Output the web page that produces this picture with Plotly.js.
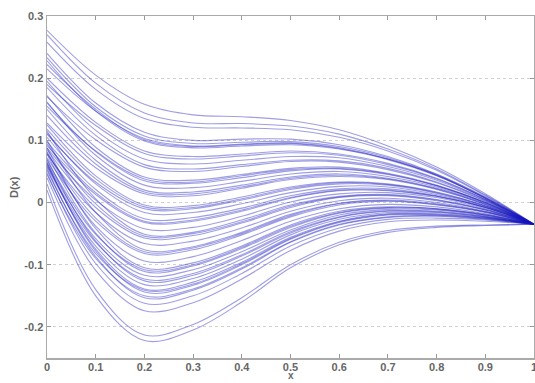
<!DOCTYPE html>
<html>
<head>
<meta charset="utf-8">
<script src="https://cdn.plot.ly/plotly-3.0.1.min.js"></script>
<style>html,body{margin:0;padding:0;background:#fff;}#chart{width:535px;height:383px;}</style>
</head>
<body>
<div id="chart"></div>
<script>
const xGrid = [0, 0.1, 0.2, 0.3, 0.4, 0.5, 0.6, 0.7, 0.8, 0.9, 1.0];

const c01 = [0.277, 0.205, 0.158, 0.141, 0.138, 0.132, 0.117, 0.091, 0.057, 0.014, -0.035];
const c02 = [0.270, 0.192, 0.144, 0.128, 0.127, 0.123, 0.110, 0.086, 0.054, 0.012, -0.035];
const c03 = [0.258, 0.182, 0.135, 0.121, 0.120, 0.117, 0.105, 0.083, 0.052, 0.011, -0.035];
const c04 = [0.240, 0.160, 0.113, 0.100, 0.102, 0.102, 0.093, 0.074, 0.046, 0.009, -0.035];
const c05 = [0.233, 0.154, 0.107, 0.095, 0.097, 0.098, 0.090, 0.072, 0.045, 0.008, -0.035];
const c06 = [0.215, 0.147, 0.103, 0.091, 0.094, 0.096, 0.088, 0.070, 0.044, 0.007, -0.035];
const c07 = [0.228, 0.147, 0.099, 0.088, 0.091, 0.093, 0.086, 0.069, 0.043, 0.007, -0.035];
const c08 = [0.200, 0.129, 0.083, 0.074, 0.078, 0.083, 0.078, 0.063, 0.039, 0.005, -0.035];
const c09 = [0.190, 0.124, 0.079, 0.070, 0.075, 0.080, 0.076, 0.061, 0.038, 0.005, -0.035];
const c10 = [0.185, 0.108, 0.061, 0.054, 0.061, 0.068, 0.067, 0.055, 0.033, 0.003, -0.035];
const c11 = [0.170, 0.101, 0.057, 0.050, 0.058, 0.066, 0.065, 0.053, 0.032, 0.002, -0.035];
const c12 = [0.172, 0.089, 0.041, 0.036, 0.045, 0.055, 0.057, 0.047, 0.028, 0.000, -0.035];
const c13 = [0.155, 0.083, 0.038, 0.033, 0.043, 0.053, 0.055, 0.046, 0.027, 0.000, -0.035];
const c14 = [0.160, 0.082, 0.035, 0.031, 0.040, 0.051, 0.054, 0.045, 0.027, 0.000, -0.035];
const c15 = [0.150, 0.068, 0.020, 0.017, 0.028, 0.041, 0.046, 0.039, 0.023, -0.002, -0.035];
const c16 = [0.140, 0.062, 0.017, 0.014, 0.025, 0.039, 0.044, 0.038, 0.022, -0.003, -0.035];
const c17 = [0.128, 0.056, 0.014, 0.011, 0.023, 0.037, 0.042, 0.037, 0.021, -0.003, -0.035];
const c18 = [0.125, 0.043, -0.004, -0.005, 0.009, 0.025, 0.033, 0.030, 0.017, -0.005, -0.035];
const c19 = [0.118, 0.038, -0.007, -0.008, 0.006, 0.023, 0.032, 0.029, 0.016, -0.005, -0.035];
const c20 = [0.110, 0.033, -0.010, -0.010, 0.004, 0.021, 0.030, 0.028, 0.015, -0.006, -0.035];
const c21 = [0.105, 0.021, -0.026, -0.024, -0.009, 0.011, 0.022, 0.022, 0.011, -0.008, -0.035];
const c22 = [0.098, 0.016, -0.030, -0.028, -0.012, 0.008, 0.020, 0.020, 0.010, -0.008, -0.035];
const c23 = [0.092, 0.013, -0.032, -0.030, -0.014, 0.007, 0.019, 0.019, 0.010, -0.008, -0.035];
const c24 = [0.115, 0.006, -0.051, -0.048, -0.028, -0.004, 0.010, 0.013, 0.005, -0.011, -0.035];
const c25 = [0.095, -0.002, -0.054, -0.050, -0.031, -0.006, 0.009, 0.012, 0.004, -0.012, -0.035];
const c26 = [0.085, -0.008, -0.057, -0.053, -0.033, -0.008, 0.008, 0.011, 0.003, -0.012, -0.035];
const c27 = [0.100, -0.016, -0.076, -0.071, -0.048, -0.019, -0.001, 0.004, -0.002, -0.015, -0.035];
const c28 = [0.080, -0.025, -0.079, -0.073, -0.050, -0.021, -0.002, 0.003, -0.003, -0.015, -0.035];
const c29 = [0.072, -0.030, -0.082, -0.076, -0.052, -0.023, -0.004, 0.002, -0.004, -0.016, -0.035];
const c30 = [0.088, -0.042, -0.105, -0.097, -0.070, -0.036, -0.014, -0.007, -0.010, -0.019, -0.035];
const c31 = [0.068, -0.051, -0.108, -0.100, -0.072, -0.038, -0.016, -0.008, -0.010, -0.020, -0.035];
const c32 = [0.078, -0.049, -0.111, -0.102, -0.074, -0.040, -0.017, -0.009, -0.011, -0.020, -0.035];
const c33 = [0.060, -0.064, -0.123, -0.114, -0.084, -0.047, -0.023, -0.013, -0.014, -0.022, -0.035];
const c34 = [0.070, -0.062, -0.126, -0.117, -0.086, -0.049, -0.024, -0.014, -0.015, -0.023, -0.035];
const c35 = [0.062, -0.075, -0.139, -0.128, -0.096, -0.056, -0.030, -0.018, -0.018, -0.024, -0.035];
const c36 = [0.052, -0.082, -0.141, -0.131, -0.098, -0.058, -0.031, -0.019, -0.019, -0.025, -0.035];
const c37 = [0.065, -0.078, -0.144, -0.133, -0.100, -0.059, -0.032, -0.020, -0.020, -0.025, -0.035];
const c38 = [0.045, -0.090, -0.150, -0.139, -0.105, -0.063, -0.035, -0.023, -0.021, -0.026, -0.035];
const c39 = [0.055, -0.087, -0.153, -0.141, -0.107, -0.064, -0.036, -0.024, -0.022, -0.027, -0.035];
const c40 = [0.040, -0.109, -0.174, -0.161, -0.123, -0.077, -0.046, -0.031, -0.028, -0.030, -0.035];
const c41 = [0.030, -0.140, -0.213, -0.196, -0.153, -0.100, -0.064, -0.045, -0.038, -0.036, -0.035];
const c42 = [0.020, -0.150, -0.222, -0.205, -0.160, -0.105, -0.068, -0.048, -0.040, -0.037, -0.035];
const c43 = [0.162, 0.076, 0.028, 0.024, 0.034, 0.046, 0.050, 0.042, 0.025, -0.001, -0.035];
const c44 = [0.112, 0.030, -0.016, -0.016, -0.002, 0.016, 0.026, 0.025, 0.013, -0.007, -0.035];
const c45 = [0.088, 0.004, -0.042, -0.040, -0.022, 0.001, 0.014, 0.016, 0.008, -0.010, -0.035];
const c46 = [0.078, -0.016, -0.066, -0.062, -0.041, -0.014, 0.003, 0.007, 0.000, -0.014, -0.035];
const c47 = [0.082, -0.038, -0.094, -0.087, -0.061, -0.030, -0.010, -0.003, -0.007, -0.018, -0.035];
const c48 = [0.064, -0.058, -0.117, -0.108, -0.079, -0.044, -0.020, -0.011, -0.012, -0.021, -0.035];
const c49 = [0.058, -0.070, -0.132, -0.122, -0.091, -0.052, -0.027, -0.016, -0.016, -0.023, -0.035];
const c50 = [0.048, -0.098, -0.162, -0.150, -0.114, -0.070, -0.041, -0.027, -0.025, -0.028, -0.035];
const c51 = [0.195, 0.116, 0.070, 0.062, 0.068, 0.074, 0.072, 0.058, 0.036, 0.004, -0.035];
const c52 = [0.222, 0.150, 0.101, 0.090, 0.093, 0.095, 0.087, 0.070, 0.044, 0.007, -0.035];

const curves = [c01,c02,c03,c04,c05,c06,c07,c08,c09,c10,c11,c12,c13,c14,c15,c16,c17,c18,c19,c20,c21,
                c22,c23,c24,c25,c26,c27,c28,c29,c30,c31,c32,c33,c34,c35,c36,c37,c38,c39,c40,c41,c42,
                c43,c44,c45,c46,c47,c48,c49,c50,c51,c52];

const xTickVals = [0, 0.1, 0.2, 0.3, 0.4, 0.5, 0.6, 0.7, 0.8, 0.9, 1];
const xTickText = ['0', '0.1', '0.2', '0.3', '0.4', '0.5', '0.6', '0.7', '0.8', '0.9', '1'];
const yTickVals = [-0.2, -0.1, 0, 0.1, 0.2, 0.3];
const yTickText = ['-0.2', '-0.1', '0', '0.1', '0.2', '0.3'];

const traces = curves.map(function (c) {
  return {
    x: xGrid, y: c, type: 'scatter', mode: 'lines',
    line: {color: 'rgba(25,25,190,0.42)', width: 1.1, shape: 'spline', smoothing: 1},
    hoverinfo: 'skip', showlegend: false
  };
});

const tickFont = {family: 'Liberation Sans, Arial, sans-serif', size: 11, color: '#666', weight: 'bold'};

const layout = {
  width: 535, height: 383,
  margin: {l: 47, r: 1, t: 16, b: 25, pad: 0},
  paper_bgcolor: '#fff', plot_bgcolor: '#fff',
  showlegend: false,
  xaxis: {
    range: [0, 1], tickvals: xTickVals, ticktext: xTickText,
    ticks: 'inside', ticklen: 4, tickcolor: '#999',
    showline: true, linecolor: '#aaa', linewidth: 1.5, mirror: 'ticks',
    showgrid: false, zeroline: false, tickfont: tickFont, automargin: false,
    ticklabeloverflow: 'allow', ticklabelstandoff: -2
  },
  yaxis: {
    range: [-0.25, 0.3], tickvals: yTickVals, ticktext: yTickText,
    ticks: 'inside', ticklen: 4, tickcolor: '#999',
    showline: true, linecolor: '#aaa', linewidth: 1.5, mirror: 'ticks',
    showgrid: true, gridcolor: '#d0d0d0', griddash: 'dot', gridwidth: 1,
    zeroline: false, tickfont: tickFont, automargin: false,
    ticklabeloverflow: 'allow'
  },
  annotations: [
    {text: 'x', xref: 'paper', yref: 'paper', x: 0.5, y: 0, yshift: -24.5, yanchor: 'bottom',
     showarrow: false, font: {family: 'Liberation Sans, Arial, sans-serif', size: 10, color: '#666', weight: 'bold'}},
    {text: 'D(x)', xref: 'paper', yref: 'paper', x: 0, y: 0.5, xshift: -33, xanchor: 'center',
     textangle: -90, showarrow: false, font: {family: 'Liberation Sans, Arial, sans-serif', size: 11, color: '#666', weight: 'bold'}}
  ]
};

Plotly.newPlot('chart', traces, layout, {staticPlot: true, displayModeBar: false});
</script>
</body>
</html>
